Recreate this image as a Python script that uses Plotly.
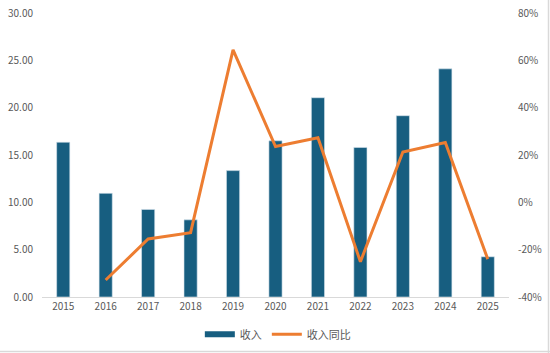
import plotly.graph_objects as go

years = ["2015", "2016", "2017", "2018", "2019", "2020", "2021", "2022", "2023", "2024", "2025"]
revenue = [16.35, 10.95, 9.25, 8.15, 13.35, 16.5, 21.05, 15.8, 19.15, 24.1, 4.25]
yoy = [None, -32.8, -15.5, -12.8, 64.4, 23.6, 27.3, -25.1, 21.3, 25.3, -24.0]

left_ticks = [0, 5, 10, 15, 20, 25, 30]
right_ticks = [-40, -20, 0, 20, 40, 60, 80]

bar_color = "#175E80"
line_color = "#ED7D31"
text_color = "#595959"
font_family = "Noto Sans CJK SC, Noto Sans, sans-serif"

fig = go.Figure()
fig.add_trace(go.Bar(
    x=years, y=revenue, name="收入", showlegend=False,
    marker=dict(color=bar_color, line=dict(color="#D6E4EC", width=0.6)),
    yaxis="y",
))
# legend swatch for the bars (wide rectangle like the reference)
fig.add_trace(go.Scatter(
    x=[None], y=[None], name="收入", mode="lines",
    line=dict(color=bar_color, width=6), yaxis="y",
))
fig.add_trace(go.Scatter(
    x=years, y=yoy, name="收入同比", mode="lines",
    line=dict(color=line_color, width=3),
    yaxis="y2", connectgaps=False,
))

W, H = 550, 353
ml, mr, mt, mb = 42, 41, 13, 56
fig.update_layout(
    width=W, height=H,
    margin=dict(l=ml, r=mr, t=mt, b=mb, autoexpand=False),
    paper_bgcolor="white", plot_bgcolor="white",
    bargap=0.69,
    font=dict(family=font_family, size=10, color=text_color),
    showlegend=True,
    legend=dict(orientation="h", x=0.505, xanchor="center", y=-0.08, yanchor="top",
                font=dict(size=11, color=text_color),
                traceorder="normal", itemwidth=30),
    xaxis=dict(type="category", showgrid=False, showline=True, linecolor="#D9D9D9",
               linewidth=1, ticks="", tickfont=dict(size=10, color=text_color)),
    yaxis=dict(range=[0, 30], tickvals=left_ticks,
               ticktext=[f"{v:.2f}" for v in left_ticks],
               showgrid=False, zeroline=False, showline=False,
               tickfont=dict(size=10, color=text_color), ticklabelstandoff=8),
    yaxis2=dict(range=[-40, 80], tickvals=right_ticks,
                ticktext=[f"{v}%" for v in right_ticks],
                overlaying="y", side="right", showgrid=False, zeroline=False,
                showline=False, tickfont=dict(size=10, color=text_color),
                ticklabelstandoff=8),
)

pw = W - ml - mr
ph = H - mt - mb
def px_x(p):
    return (p - ml) / pw
def px_y(p):
    return (H - mb - p) / ph

fig.add_shape(type="line", xref="paper", yref="paper",
              x0=px_x(0), x1=px_x(550), y0=px_y(351.5), y1=px_y(351.5),
              line=dict(color="#D9D9D9", width=1.5))
fig.add_shape(type="line", xref="paper", yref="paper",
              x0=px_x(548.5), x1=px_x(548.5), y0=px_y(0), y1=px_y(353),
              line=dict(color="#D9D9D9", width=1.5))

fig.write_html("out.html")
